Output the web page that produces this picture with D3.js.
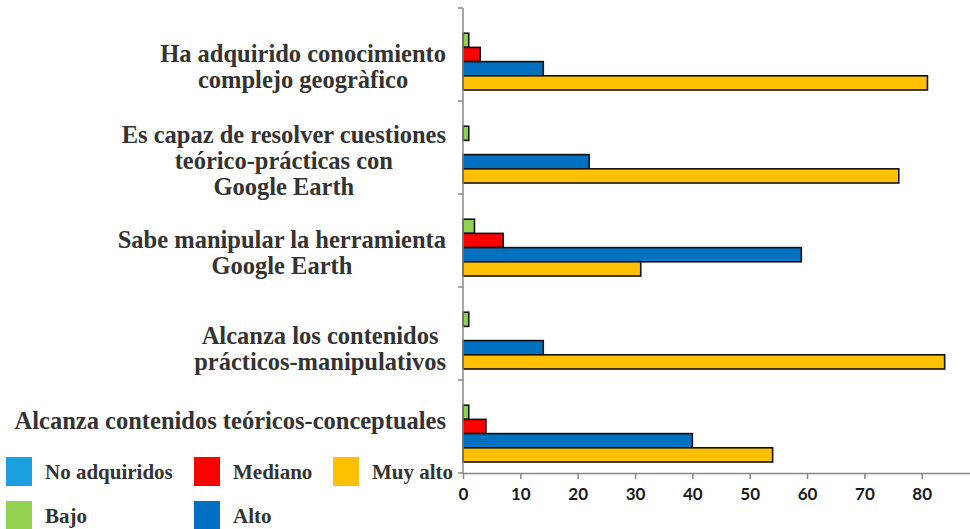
<!DOCTYPE html>
<html>
<head>
<meta charset="utf-8">
<script src="https://cdn.jsdelivr.net/npm/d3@7"></script>
<style>
  body { margin: 0; background: #fff; }
  svg { display: block; }
</style>
</head>
<body>
<div id="vis"></div>
<script>
// chart data
const categories = [
  ["Ha adquirido conocimiento", "complejo geogràfico"],
  ["Es capaz de resolver cuestiones", "teórico-prácticas con", "Google Earth"],
  ["Sabe manipular la herramienta", "Google Earth"],
  ["Alcanza los contenidos", "prácticos-manipulativos"],
  ["Alcanza contenidos teóricos-conceptuales"]
];
const seriesNames = ["No adquiridos", "Bajo", "Mediano", "Alto", "Muy alto"];
const noAdquiridos = [0, 0, 0, 0, 0];
const bajo = [1, 1, 2, 1, 1];
const mediano = [3, 0, 7, 0, 4];
const alto = [14, 22, 59, 14, 40];
const muyAlto = [81, 76, 31, 84, 54];
const xTicks = [0, 10, 20, 30, 40, 50, 60, 70, 80];

const seriesValues = [noAdquiridos, bajo, mediano, alto, muyAlto];
const COLORS = ["#1aa0e0", "#92d050", "#ff0000", "#0070c0", "#ffc000"];

const FRAME_WIDTH = 970;
const FRAME_HEIGHT = 529;
const MARGINS = {left: 463, top: 8, bottom: 56};
const AXIS_Y = FRAME_HEIGHT - MARGINS.bottom;
// label vertical nudges so text sits beside the drawn bars
const LABEL_DY = [12, 13, 12, 15, -6];

const svg = d3.select("#vis")
  .append("svg")
    .attr("width", FRAME_WIDTH)
    .attr("height", FRAME_HEIGHT);

const keys = categories.map((d, i) => i);

const X_SCALE = d3.scaleLinear()
  .domain([0, 90])
  .range([MARGINS.left, MARGINS.left + 90 * 5.734]);

const Y_SCALE = d3.scaleBand()
  .domain(keys)
  .range([MARGINS.top, AXIS_Y])
  .padding(0);

const INNER = d3.scaleBand()
  .domain(d3.range(seriesNames.length))
  .range([11, 82])
  .padding(0);

// bars
const groups = svg.selectAll(".grp")
  .data(keys)
  .enter()
  .append("g")
    .attr("class", "grp")
    .attr("transform", (d) => "translate(0," + Y_SCALE(d) + ")");

groups.selectAll("rect")
  .data((c) => seriesValues.map((vals, s) => ({s: s, v: vals[c]})).filter((d) => d.v > 0))
  .enter()
  .append("rect")
    .attr("x", X_SCALE(0))
    .attr("y", (d) => INNER(d.s))
    .attr("width", (d) => X_SCALE(d.v) - X_SCALE(0))
    .attr("height", INNER.bandwidth())
    .attr("fill", (d) => COLORS[d.s])
    .attr("stroke", "#111")
    .attr("stroke-width", 1.6);

// x axis
const xAxis = svg.append("g")
  .attr("transform", "translate(0," + AXIS_Y + ")")
  .call(d3.axisBottom(X_SCALE).tickValues(xTicks).tickSize(6).tickPadding(9).tickSizeOuter(0));
xAxis.select(".domain").attr("stroke", "#888").attr("stroke-width", 1.5);
xAxis.selectAll(".tick line").attr("stroke", "#888").attr("stroke-width", 1.5);
xAxis.selectAll("text")
  .attr("font-family", "Lato, 'Open Sans', sans-serif")
  .attr("font-weight", "bold")
  .attr("font-size", "17px")
  .attr("fill", "#1a1a1a");

// y axis (category separators)
const yAxis = svg.append("g")
  .attr("transform", "translate(" + MARGINS.left + ",0)");
yAxis.append("line")
  .attr("x1", 0).attr("x2", 0)
  .attr("y1", MARGINS.top).attr("y2", AXIS_Y)
  .attr("stroke", "#888").attr("stroke-width", 1.5);
yAxis.selectAll(".sep")
  .data(keys.map((k) => Y_SCALE(k)).concat([AXIS_Y]))
  .enter()
  .append("line")
    .attr("x1", -5).attr("x2", 0)
    .attr("y1", (d) => d).attr("y2", (d) => d)
    .attr("stroke", "#888").attr("stroke-width", 1.5);

// category labels
const LABEL_RIGHT = 446;
const LINE_H = 26;
keys.forEach((k) => {
  const lines = categories[k];
  const t = svg.append("text")
    .attr("font-family", "'Liberation Serif', 'Times New Roman', serif")
    .attr("font-weight", "bold")
    .attr("font-size", "24.5px")
    .attr("fill", "#333")
    .attr("text-anchor", "middle");
  const cy = Y_SCALE(k) + Y_SCALE.bandwidth() / 2 + LABEL_DY[k];
  const top = cy - (lines.length - 1) * LINE_H / 2;
  const spans = t.selectAll("tspan")
    .data(lines)
    .enter()
    .append("tspan")
      .attr("y", (d, i) => top + i * LINE_H)
      .attr("dy", "0.35em")
      .text((d) => d);
  let maxW = 0;
  spans.each(function() { maxW = Math.max(maxW, this.getComputedTextLength()); });
  spans.attr("x", LABEL_RIGHT - maxW / 2);
});

// legend
const legendOrder = [0, 2, 4, 1, 3];
const legendCols = [6, 194, 333];
const legend = svg.selectAll(".leg")
  .data(legendOrder)
  .enter()
  .append("g")
    .attr("class", "leg")
    .attr("transform", (d, i) => "translate(" + legendCols[i % 3] + "," + (457 + Math.floor(i / 3) * 44) + ")");
legend.append("rect")
  .attr("width", 26)
  .attr("height", 29)
  .attr("fill", (d) => COLORS[d]);
legend.append("text")
  .attr("x", 39)
  .attr("y", 14.5)
  .attr("dy", "0.35em")
  .attr("font-family", "'Liberation Serif', 'Times New Roman', serif")
  .attr("font-weight", "bold")
  .attr("font-size", "21px")
  .attr("fill", "#333")
  .text((d) => seriesNames[d]);
</script>
</body>
</html>
